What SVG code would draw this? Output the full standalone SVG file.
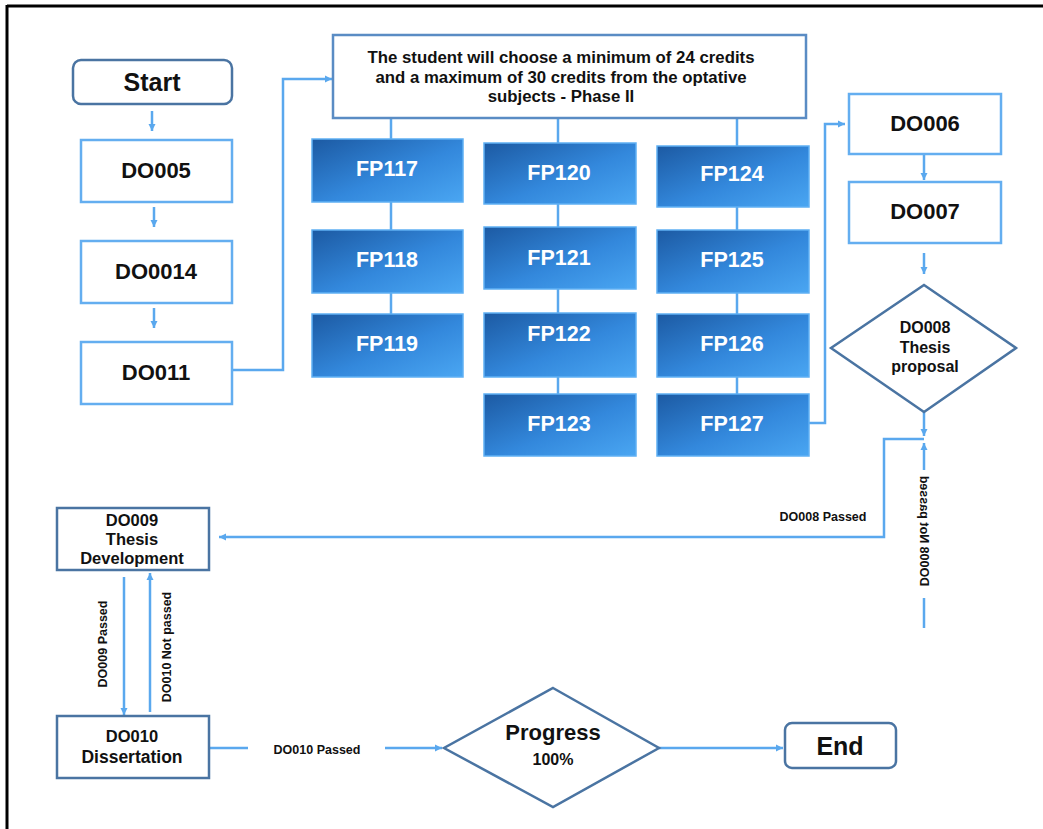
<svg xmlns="http://www.w3.org/2000/svg" width="1043" height="829" viewBox="0 0 1043 829">
<defs>
<linearGradient id="fpg" x1="0" y1="0" x2="1" y2="1">
<stop offset="0" stop-color="#1c5aa3"/>
<stop offset="0.55" stop-color="#3388dc"/>
<stop offset="1" stop-color="#4aa6f2"/>
</linearGradient>
<marker id="ah" markerWidth="8" markerHeight="8" refX="7" refY="4" orient="auto" markerUnits="userSpaceOnUse">
<path d="M0,0.5 L7,4 L0,7.5 Z" fill="#5aa8ee"/>
</marker>
<style>
.t{font-family:"Liberation Sans",Arial,sans-serif;font-weight:bold;fill:#111;text-anchor:middle}
.w{font-family:"Liberation Sans",Arial,sans-serif;font-weight:bold;fill:#fff;text-anchor:middle;font-size:21.5px}
.lb{fill:#fff;stroke:#64aef0;stroke-width:2.5}
.db{fill:#fff;stroke:#4a74a2;stroke-width:2.5}
.fp{fill:url(#fpg);stroke:#5fb0f4;stroke-width:1.5}
.c{fill:none;stroke:#5aa8ee;stroke-width:2.5}
.ca{fill:none;stroke:#5aa8ee;stroke-width:2.5;marker-end:url(#ah)}
.lab{font-family:"Liberation Sans",Arial,sans-serif;font-weight:bold;fill:#111;font-size:12.5px;text-anchor:middle}
</style>
</defs>
<rect x="0" y="0" width="1043" height="829" fill="#fff"/>
<line x1="7" y1="6" x2="1043" y2="6" stroke="#000" stroke-width="3"/>
<line x1="7" y1="5" x2="7" y2="829" stroke="#000" stroke-width="3"/>

<g id="connectors">
<line class="ca" x1="152" y1="111" x2="152" y2="131"/>
<line class="ca" x1="154" y1="207" x2="154" y2="227"/>
<line class="ca" x1="154" y1="308" x2="154" y2="328"/>
<polyline class="ca" points="232,370 283,370 283,79 332,79"/>
<line class="c" x1="391" y1="118" x2="391" y2="139"/>
<line class="c" x1="558" y1="118" x2="558" y2="143"/>
<line class="c" x1="737" y1="118" x2="737" y2="146"/>
<line class="c" x1="391" y1="202" x2="391" y2="230"/>
<line class="c" x1="391" y1="293" x2="391" y2="314"/>
<line class="c" x1="558" y1="204" x2="558" y2="227"/>
<line class="c" x1="558" y1="289" x2="558" y2="313"/>
<line class="c" x1="558" y1="377" x2="558" y2="394"/>
<line class="c" x1="737" y1="207" x2="737" y2="230"/>
<line class="c" x1="737" y1="293" x2="737" y2="314"/>
<line class="c" x1="737" y1="377" x2="737" y2="394"/>
<polyline class="ca" points="809,423 825,423 825,124 845,124"/>
<line class="ca" x1="924" y1="154" x2="924" y2="180"/>
<line class="ca" x1="924" y1="253" x2="924" y2="274"/>
<line class="ca" x1="924" y1="412" x2="924" y2="436"/>
<polyline class="ca" points="924,439 884,439 884,537 219,537"/>
<line class="c" x1="924" y1="628" x2="924" y2="598"/>
<line class="ca" x1="924" y1="470" x2="924" y2="443"/>
<line class="ca" x1="124" y1="577" x2="124" y2="715"/>
<line class="ca" x1="150" y1="712" x2="150" y2="573"/>
<line class="c" x1="209" y1="748" x2="248" y2="748"/>
<line class="ca" x1="385" y1="748" x2="442" y2="748"/>
<line class="ca" x1="659" y1="748" x2="783" y2="748"/>
<text class="lab" x="823" y="521">DO008 Passed</text>
<text class="lab" x="317" y="754">DO010 Passed</text>
<text class="lab" transform="translate(107,644) rotate(-90)">DO009 Passed</text>
<text class="lab" transform="translate(171,647) rotate(-90)">DO010 Not passed</text>
<text class="lab" transform="translate(920,531) scale(-1,1) rotate(-90)">DO008 Not passed</text>
</g>

<g id="start"><rect class="db" x="73" y="60" width="159" height="44" rx="8"/><text class="t" x="152" y="91" font-size="25">Start</text></g>
<g id="do005"><rect class="lb" x="81" y="140" width="151" height="62"/><text class="t" x="156" y="178" font-size="22">DO005</text></g>
<g id="do0014"><rect class="lb" x="81" y="241" width="151" height="62"/><text class="t" x="156" y="279" font-size="22">DO0014</text></g>
<g id="do011"><rect class="lb" x="81" y="342" width="151" height="62"/><text class="t" x="156" y="380" font-size="22">DO011</text></g>

<g id="phase2"><rect fill="#fff" stroke="#5a8cc4" stroke-width="2.5" x="333" y="35" width="473" height="83"/>
<text class="t" font-size="16.8"><tspan x="561" y="63">The student will choose a minimum of 24 credits</tspan><tspan x="561" y="83">and a maximum of 30 credits from the optative</tspan><tspan x="561" y="102">subjects - Phase II</tspan></text></g>

<g id="fp117"><rect class="fp" x="312" y="139" width="151" height="63"/><text class="w" x="387" y="176">FP117</text></g>
<g id="fp118"><rect class="fp" x="312" y="230" width="151" height="63"/><text class="w" x="387" y="267">FP118</text></g>
<g id="fp119"><rect class="fp" x="312" y="314" width="151" height="63"/><text class="w" x="387" y="351">FP119</text></g>
<g id="fp120"><rect class="fp" x="484" y="143" width="152" height="61"/><text class="w" x="559" y="180">FP120</text></g>
<g id="fp121"><rect class="fp" x="484" y="227" width="152" height="62"/><text class="w" x="559" y="265">FP121</text></g>
<g id="fp122"><rect class="fp" x="484" y="313" width="152" height="64"/><text class="w" x="559" y="341">FP122</text></g>
<g id="fp123"><rect class="fp" x="484" y="394" width="152" height="62"/><text class="w" x="559" y="431">FP123</text></g>
<g id="fp124"><rect class="fp" x="657" y="146" width="152" height="61"/><text class="w" x="732" y="181">FP124</text></g>
<g id="fp125"><rect class="fp" x="657" y="230" width="152" height="63"/><text class="w" x="732" y="267">FP125</text></g>
<g id="fp126"><rect class="fp" x="657" y="314" width="152" height="63"/><text class="w" x="732" y="351">FP126</text></g>
<g id="fp127"><rect class="fp" x="657" y="394" width="152" height="62"/><text class="w" x="732" y="431">FP127</text></g>

<g id="do006"><rect class="lb" x="849" y="94" width="152" height="60"/><text class="t" x="925" y="131" font-size="22">DO006</text></g>
<g id="do007"><rect class="lb" x="849" y="182" width="152" height="61"/><text class="t" x="925" y="219" font-size="22">DO007</text></g>
<g id="do008"><polygon class="db" points="924,285 1016,348 924,412 831,348"/>
<text class="t" font-size="16"><tspan x="925" y="333">DO008</tspan><tspan x="925" y="353">Thesis</tspan><tspan x="925" y="372">proposal</tspan></text></g>

<g id="do009"><rect class="db" x="57" y="508" width="152" height="62"/>
<text class="t" font-size="16.5"><tspan x="132" y="526">DO009</tspan><tspan x="132" y="545">Thesis</tspan><tspan x="132" y="564">Development</tspan></text></g>
<g id="do010"><rect class="db" x="57" y="716" width="152" height="62"/>
<text class="t"><tspan x="132" y="742" font-size="16.5">DO010</tspan><tspan x="132" y="763" font-size="17.5">Dissertation</tspan></text></g>

<g id="progress"><polygon class="db" points="553,688 659,748 553,807 444,748"/>
<text class="t"><tspan x="553" y="740" font-size="22">Progress</tspan><tspan x="553" y="765" font-size="16">100%</tspan></text></g>
<g id="end"><rect class="db" x="785" y="723" width="111" height="45" rx="7"/><text class="t" x="840" y="755" font-size="25">End</text></g>
</svg>
